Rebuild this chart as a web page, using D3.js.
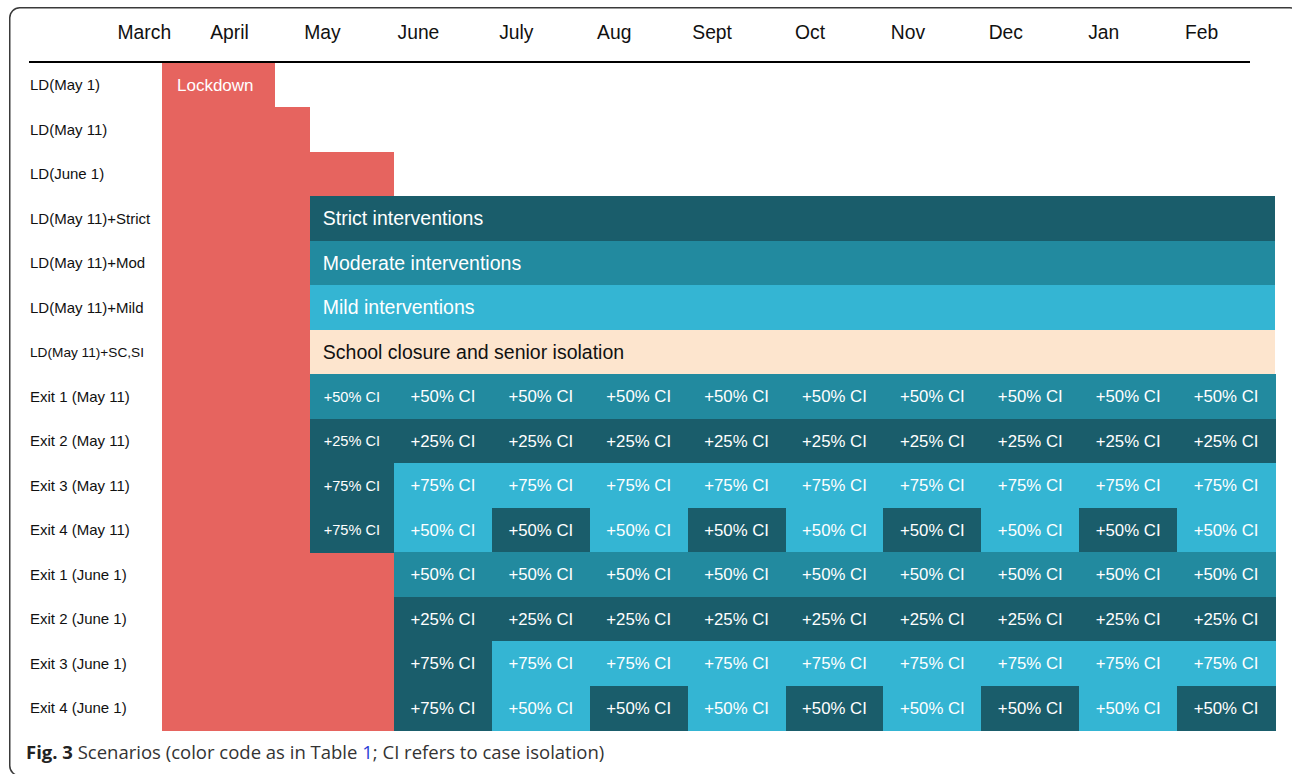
<!DOCTYPE html>
<html>
<head>
<meta charset="utf-8">
<script src="https://cdn.jsdelivr.net/npm/d3@7"></script>
<style>
  html, body { margin: 0; padding: 0; background: #fff; }
  svg { display: block; }
</style>
</head>
<body>
<svg id="chart" width="1292" height="774"></svg>
<script>
// ---------------- DATA ----------------
// month header labels and their position on the time axis (months since March 1)
const monthLabels = ["March", "April", "May", "June", "July", "Aug", "Sept", "Oct", "Nov", "Dec", "Jan", "Feb"];
const monthTicks  = [0.45, 1.32, 2.27, 3.25, 4.25, 5.25, 6.25, 7.25, 8.25, 9.25, 10.25, 11.25];

// scenario rows
const rowLabels = [
  "LD(May 1)", "LD(May 11)", "LD(June 1)",
  "LD(May 11)+Strict", "LD(May 11)+Mod", "LD(May 11)+Mild", "LD(May 11)+SC,SI",
  "Exit 1 (May 11)", "Exit 2 (May 11)", "Exit 3 (May 11)", "Exit 4 (May 11)",
  "Exit 1 (June 1)", "Exit 2 (June 1)", "Exit 3 (June 1)", "Exit 4 (June 1)"
];

// key dates on the time axis (months since March 1)
const lockdownStart = 0.63;
const dateMay1 = 1.78, dateMay11 = 2.14, dateJune1 = 3.0, dateEnd = 12.0;

// lockdown end per row
const lockdownEnd = [
  dateMay1, dateMay11, dateJune1,
  dateMay11, dateMay11, dateMay11, dateMay11,
  dateMay11, dateMay11, dateMay11, dateMay11,
  dateJune1, dateJune1, dateJune1, dateJune1
];

// post-lockdown interventions (rows 3..6)
const interventionRows   = ["LD(May 11)+Strict", "LD(May 11)+Mod", "LD(May 11)+Mild", "LD(May 11)+SC,SI"];
const interventionLabels = ["Strict interventions", "Moderate interventions", "Mild interventions", "School closure and senior isolation"];
const interventionLevel  = ["strict", "moderate", "mild", "scsi"];

// exit strategies: monthly segments, case-isolation % and intervention level (S strict, M moderate, L mild)
const exitRows = ["Exit 1 (May 11)", "Exit 2 (May 11)", "Exit 3 (May 11)", "Exit 4 (May 11)",
                  "Exit 1 (June 1)", "Exit 2 (June 1)", "Exit 3 (June 1)", "Exit 4 (June 1)"];
const exitStart = [dateMay11, dateMay11, dateMay11, dateMay11, dateJune1, dateJune1, dateJune1, dateJune1];
const exitCI = [
  [50, 50, 50, 50, 50, 50, 50, 50, 50, 50],
  [25, 25, 25, 25, 25, 25, 25, 25, 25, 25],
  [75, 75, 75, 75, 75, 75, 75, 75, 75, 75],
  [75, 50, 50, 50, 50, 50, 50, 50, 50, 50],
  [50, 50, 50, 50, 50, 50, 50, 50, 50],
  [25, 25, 25, 25, 25, 25, 25, 25, 25],
  [75, 75, 75, 75, 75, 75, 75, 75, 75],
  [75, 50, 50, 50, 50, 50, 50, 50, 50]
];
const exitLevel = [
  ["M", "M", "M", "M", "M", "M", "M", "M", "M", "M"],
  ["S", "S", "S", "S", "S", "S", "S", "S", "S", "S"],
  ["S", "L", "L", "L", "L", "L", "L", "L", "L", "L"],
  ["S", "L", "S", "L", "S", "L", "S", "L", "S", "L"],
  ["M", "M", "M", "M", "M", "M", "M", "M", "M"],
  ["S", "S", "S", "S", "S", "S", "S", "S", "S"],
  ["S", "L", "L", "L", "L", "L", "L", "L", "L"],
  ["S", "L", "S", "L", "S", "L", "S", "L", "S"]
];
// month boundaries after June 1
const monthBounds = [3, 4, 5, 6, 7, 8, 9, 10, 11, 12];

// ---------------- STYLE ----------------
const colors = {
  lockdown: "#E6645F",
  strict: "#1A5D6B", S: "#1A5D6B",
  moderate: "#228A9F", M: "#228A9F",
  mild: "#34B5D3", L: "#34B5D3",
  scsi: "#FDE5CE"
};
const FONT = "'Liberation Sans', Arial, Helvetica, sans-serif";

// ---------------- CHART ----------------
const svg = d3.select("#chart");

// frame
svg.append("rect")
  .attr("x", 9.75).attr("y", 7.75)
  .attr("width", 1290).attr("height", 768)
  .attr("rx", 10).attr("ry", 10)
  .attr("fill", "none").attr("stroke", "#3a3a3a").attr("stroke-width", 1.5);

const x = d3.scaleLinear().domain([0, 12]).range([100.3, 1275]);
const y = d3.scaleBand().domain(rowLabels).range([63, 730]).padding(0);

// header month labels
svg.append("g").selectAll("text")
  .data(monthLabels)
  .join("text")
  .attr("x", (d, i) => x(monthTicks[i]))
  .attr("y", 39)
  .attr("text-anchor", "middle")
  .attr("font-family", FONT)
  .attr("font-size", 19.3)
  .attr("fill", "#111")
  .text(d => d);

// header rule
svg.append("line")
  .attr("x1", 29).attr("x2", 1250)
  .attr("y1", 62).attr("y2", 62)
  .attr("stroke", "#000").attr("stroke-width", 2.2);

// lockdown bars
const gLd = svg.append("g");
gLd.selectAll("rect")
  .data(rowLabels)
  .join("rect")
  .attr("x", x(lockdownStart))
  .attr("y", d => y(d))
  .attr("width", (d, i) => x(lockdownEnd[i]) - x(lockdownStart))
  .attr("height", y.bandwidth() + 0.5)
  .attr("fill", colors.lockdown)
  .attr("shape-rendering", "crispEdges");
gLd.append("text")
  .attr("x", x(lockdownStart) + 15)
  .attr("y", y(rowLabels[0]) + y.bandwidth() / 2)
  .attr("dy", "0.35em")
  .attr("font-family", FONT)
  .attr("font-size", 17)
  .attr("fill", "#fff")
  .text("Lockdown");

// interventions
const gInt = svg.append("g");
interventionRows.forEach((r, i) => {
  gInt.append("rect")
    .attr("x", x(dateMay11))
    .attr("y", y(r))
    .attr("width", x(dateEnd) - x(dateMay11))
    .attr("height", y.bandwidth() + 0.5)
    .attr("fill", colors[interventionLevel[i]])
    .attr("shape-rendering", "crispEdges");
  gInt.append("text")
    .attr("x", x(dateMay11) + 13)
    .attr("y", y(r) + y.bandwidth() / 2)
    .attr("dy", "0.35em")
    .attr("font-family", FONT)
    .attr("font-size", 19.5)
    .attr("fill", interventionLevel[i] === "scsi" ? "#111" : "#fff")
    .text(interventionLabels[i]);
});

// exit strategies
const gExit = svg.append("g");
exitRows.forEach((r, i) => {
  const bounds = exitStart[i] < dateJune1 ? [exitStart[i]].concat(monthBounds) : monthBounds.slice();
  const segs = exitCI[i].map((ci, j) => ({ x0: bounds[j], x1: bounds[j + 1], ci: ci, lvl: exitLevel[i][j] }));
  const g = gExit.append("g");
  g.selectAll("rect")
    .data(segs)
    .join("rect")
    .attr("x", d => x(d.x0))
    .attr("y", y(r))
    .attr("width", d => x(d.x1) - x(d.x0) + 0.5)
    .attr("height", y.bandwidth() + 0.5)
    .attr("fill", d => colors[d.lvl])
    .attr("shape-rendering", "crispEdges");
  g.selectAll("text")
    .data(segs)
    .join("text")
    .attr("x", d => (x(d.x0) + x(d.x1)) / 2)
    .attr("y", y(r) + y.bandwidth() / 2)
    .attr("dy", "0.35em")
    .attr("text-anchor", "middle")
    .attr("font-family", FONT)
    .attr("font-size", d => (d.x1 - d.x0) < 0.95 ? 14.6 : 16.8)
    .attr("fill", "#fff")
    .text(d => "+" + d.ci + "% CI");
});

// row labels
svg.append("g").selectAll("text")
  .data(rowLabels)
  .join("text")
  .attr("x", 30)
  .attr("y", d => y(d) + y.bandwidth() / 2)
  .attr("dy", "0.35em")
  .attr("font-family", FONT)
  .attr("font-size", d => d === "LD(May 11)+SC,SI" ? 13.6 : 15)
  .attr("fill", "#111")
  .each(function (d) {
    if (d === "LD(May 11)+SC,SI") {
      d3.select(this).attr("textLength", 114).attr("lengthAdjust", "spacingAndGlyphs");
    }
  })
  .text(d => d);

// caption (rendered at natural width, then condensed horizontally to match the figure)
const capG = svg.append("g");
const cap = capG.append("text")
  .attr("x", 0)
  .attr("y", 0)
  .attr("font-family", "'Open Sans', 'Noto Sans', sans-serif")
  .attr("font-size", 18.5)
  .attr("fill", "#333");
cap.append("tspan").attr("font-weight", "bold").attr("fill", "#222").text("Fig. 3");
cap.append("tspan").text(" Scenarios (color code as in Table ");
cap.append("tspan").attr("fill", "#2a3fd6").text("1");
cap.append("tspan").text("; CI refers to case isolation)");
const natural = cap.node().getComputedTextLength() || 585;
const sx = Math.min(1, 584 / natural);
capG.attr("transform", `translate(26,759) scale(${sx},1)`);
</script>
</body>
</html>
